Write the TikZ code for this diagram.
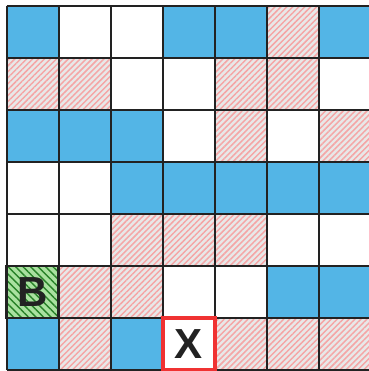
\documentclass[tikz,border=0pt]{standalone}
\usepackage{fontspec}
\setmainfont{Liberation Sans}
\usetikzlibrary{patterns.meta}

\definecolor{cellblue}{RGB}{83,181,230}
\definecolor{mudgray}{RGB}{232,232,232}
\definecolor{mudpink}{RGB}{245,165,165}
\definecolor{startgreen}{RGB}{170,225,160}
\definecolor{startline}{RGB}{40,130,40}
\definecolor{gridgray}{RGB}{34,34,34}
\definecolor{goalred}{RGB}{240,50,50}

\begin{document}
\begin{tikzpicture}[
  font=\fontsize{23}{23}\selectfont\bfseries,
  wall/.style={fill=cellblue},
  mud/.style={fill=mudgray,
              postaction={pattern={Lines[angle=45, distance=2.3pt, line width=0.8pt]},
                          pattern color=mudpink}},
  startcell/.style={fill=startgreen,
                    postaction={pattern={Lines[angle=-45, distance=2.9pt, line width=0.8pt]},
                                pattern color=startline}},
  gridline/.style={draw=gridgray, line width=1.1pt},
  goalbox/.style={draw=goalred, line width=2.4pt},
  lbl/.style={text=gridgray, inner sep=0pt},
]
  %% Frame of the picture
  \useasboundingbox (-0.129,0.115) rectangle (6.948,-7.019);

  %% Blue cells
  \foreach \c/\r in {0/0,3/0,4/0,6/0, 0/2,1/2,2/2, 2/3,3/3,4/3,5/3,6/3,
                     5/5,6/5, 0/6,2/6}
    \path[wall] (\c,-\r) rectangle ++(1,-1);

  %% Hatched cells
  \foreach \c/\r in {5/0, 0/1,1/1,4/1,5/1, 4/2,6/2, 2/4,3/4,4/4,
                     1/5,2/5, 1/6,4/6,5/6,6/6}
    \path[mud] (\c,-\r) rectangle ++(1,-1);

  %% Start cell
  \path[startcell] (0,-5) rectangle ++(1,-1);

  %% Grid
  \draw[gridline] (0,-7) grid (7,0);
  \draw[gridline, line width=1.6pt] (0,-5) rectangle ++(1,-1);

  %% Goal cell
  \draw[goalbox] (3,-6) rectangle ++(1,-1);

  %% Labels
  \node[lbl] (start) at (0.5,-5.5) {B};
  \node[lbl] (goal)  at (3.5,-6.5) {X};
\end{tikzpicture}
\end{document}
